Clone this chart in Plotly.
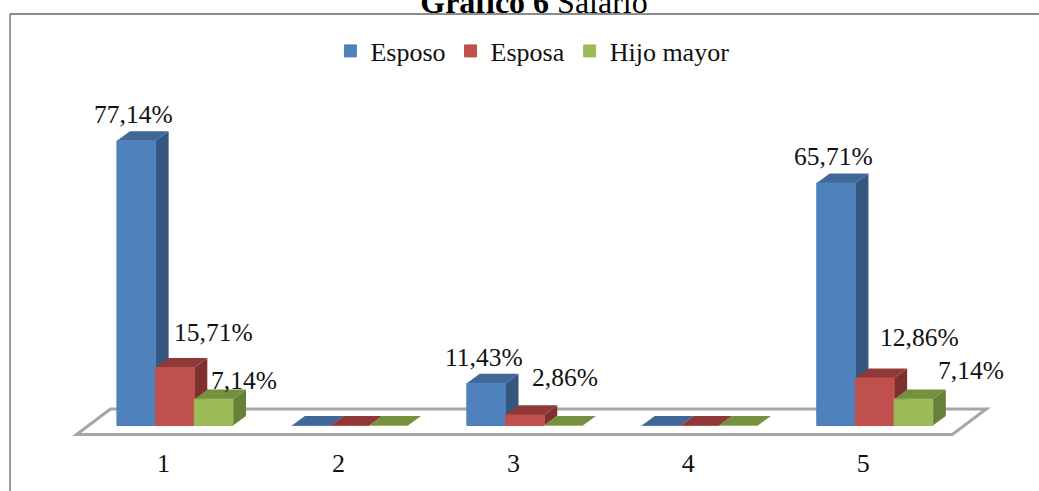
import plotly.graph_objects as go

categories = [1, 2, 3, 4, 5]
tick_labels = ["1", "2", "3", "4", "5"]
esposo = [77.14, 0, 11.43, 0, 65.71]
esposa = [15.71, 0, 2.86, 0, 12.86]
hijo_mayor = [7.14, 0, 0, 0, 7.14]
series_names = ["Esposo", "Esposa", "Hijo mayor"]

# style
FONT = "Liberation Serif"
front = ["#4f81bd", "#c0504d", "#9bbb59"]
side = ["#34567f", "#7f302e", "#688039"]
top = ["#3f6797", "#8f3a38", "#75903f"]
series = [esposo, esposa, hijo_mayor]

W, H = 1039, 491
PX_X = 175.0           # pixels per category
PX_Y = 3.69            # pixels per percent
X_RANGE = [0.3, 5.85]
Y_RANGE = [-3.93, 107.18]
bar_w = 38.7 / PX_X
first_off = -0.266
dx3 = 13 / PX_X
dy3 = 9.6 / PX_Y

# label placement relative to the bar's top centre: (series, category) -> pixels
label_shift = {
    (0, 0): (-3, 26), (1, 0): (38.5, 35), (2, 0): (30, 19),
    (0, 2): (-2, 26), (1, 2): (40, 37),
    (0, 4): (-3, 27), (1, 4): (45, 41), (2, 4): (58, 29),
}

fig = go.Figure()
shapes = []
annotations = []

# floor of the 3-D plot
fx0, fx1, fback = 0.503, 5.509, 0.194
fy0, fy1 = -2.44, 4.47
shapes.append(dict(
    type="path", layer="below", xref="x", yref="y",
    path=f"M{fx0},{fy0} L{fx1},{fy0} L{fx1+fback},{fy1} L{fx0+fback},{fy1} Z",
    fillcolor="white", line=dict(color="#a6a6a6", width=3),
))

for s, vals in enumerate(series):
    off = first_off + s * bar_w
    fig.add_trace(go.Bar(
        x=categories, y=vals, name=series_names[s],
        offset=off, width=bar_w,
        marker=dict(color=front[s], line=dict(color=front[s], width=1)),
    ))
    for i, (c, v) in enumerate(zip(categories, vals)):
        xl, xr = c + off, c + off + bar_w
        # side face
        if v > 0:
            shapes.append(dict(
                type="path", layer="below", xref="x", yref="y",
                path=f"M{xr},0 L{xr+dx3},{dy3} L{xr+dx3},{v+dy3} L{xr},{v} Z",
                fillcolor=side[s], line=dict(width=0),
            ))
        # top face
        shapes.append(dict(
            type="path", layer="below", xref="x", yref="y",
            path=f"M{xl},{v} L{xr},{v} L{xr+dx3},{v+dy3} L{xl+dx3},{v+dy3} Z",
            fillcolor=top[s], line=dict(width=0),
        ))
        if v > 0:
            sx, sy = label_shift[(s, i)]
            annotations.append(dict(
                x=(xl + xr) / 2, y=v, xref="x", yref="y",
                text=f"{v:.2f}%".replace(".", ","), showarrow=False,
                xshift=sx, yshift=sy,
                font=dict(family=FONT, size=25.5, color="#111111"),
            ))

# chart frame (its right and bottom edges lie outside the picture)
PLOT_L = (X_RANGE[0] - 1) * PX_X + 163
PLOT_R = (X_RANGE[1] - 1) * PX_X + 163
PLOT_T = 425.5 - Y_RANGE[1] * PX_Y
PLOT_B = 425.5 - Y_RANGE[0] * PX_Y
px = lambda p: (p - PLOT_L) / (PLOT_R - PLOT_L)
py = lambda p: (PLOT_B - p) / (PLOT_B - PLOT_T)
shapes.append(dict(type="line", xref="paper", yref="paper",
                   x0=px(9.5), x1=px(9.5), y0=py(14), y1=py(H + 5),
                   line=dict(color="#999999", width=2)))
shapes.append(dict(type="line", xref="paper", yref="paper",
                   x0=px(9.5), x1=px(W + 5), y0=py(14), y1=py(14),
                   line=dict(color="#8c8c8c", width=2)))

fig.update_layout(
    width=W, height=H,
    margin=dict(l=PLOT_L, r=W - PLOT_R, t=PLOT_T, b=H - PLOT_B, pad=0, autoexpand=False),
    paper_bgcolor="white", plot_bgcolor="white",
    barmode="overlay", shapes=shapes, annotations=annotations,
    font=dict(family=FONT, size=26, color="#111111"),
    hovermode=False,
    # title, cut off by the top of the picture as in the source
    title=dict(
        text="<b>Gráfico 6</b> Salario", x=534 / W, xanchor="center",
        y=1 - 13 / H, yanchor="bottom", automargin=False,
        font=dict(family=FONT, size=32, color="#000000"),
    ),
    legend=dict(
        orientation="h", x=px(330), xanchor="left", y=py(51), yanchor="middle",
        traceorder="normal",
        font=dict(family=FONT, size=26, color="#111111"),
        bgcolor="rgba(0,0,0,0)",
    ),
    xaxis=dict(
        range=X_RANGE, tickmode="array", tickvals=categories, ticktext=tick_labels,
        showgrid=False, zeroline=False, showline=False, automargin=False,
        ticks="outside", ticklen=0, tickwidth=0, tickcolor="rgba(0,0,0,0)",
        tickfont=dict(family=FONT, size=26, color="#111111"),
    ),
    yaxis=dict(range=Y_RANGE, visible=False, showgrid=False, zeroline=False, automargin=False),
)

fig.write_html("out.html", post_script="document.body.style.margin='0';",
               config={"displayModeBar": False})
